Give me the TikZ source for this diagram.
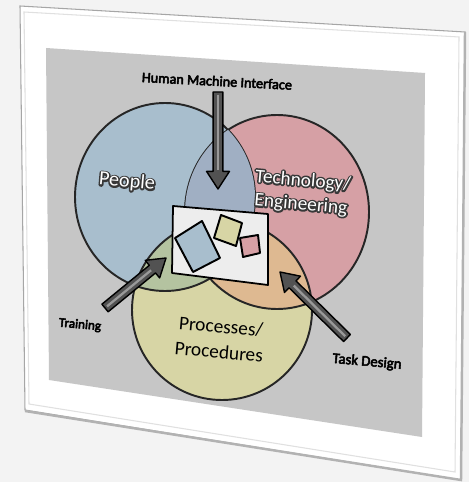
\documentclass[tikz,border=0pt]{standalone}
\usepackage{fontspec}
\setmainfont{Carlito}
\usepackage{tikz}
\usetikzlibrary{calc}
\usetikzlibrary{positioning}

\definecolor{pageback}{HTML}{F3F3F3}
\definecolor{panelgray}{HTML}{C6C6C6}
\definecolor{peopleblue}{HTML}{A8BECD}
\definecolor{techred}{HTML}{D6A0A5}
\definecolor{procyellow}{HTML}{D7D5A5}
\definecolor{bluered}{HTML}{A0AFC3}
\definecolor{blueyellow}{HTML}{B4C3A0}
\definecolor{redyellow}{HTML}{DEB991}
\definecolor{cardwhite}{HTML}{EDEDED}

\tikzset{
  venn/.style={draw=black!85, line width=1.1pt},
  arrowbody/.style={fill=black!68, draw=black, line width=0.8pt, line join=round},
  arrowshine/.style={draw=black!40, line width=1.3pt},
  halotext/.style={text=white, align=center, inner sep=0pt},
  plaintext/.style={text=black, align=center, inner sep=0pt},
  chip/.style={draw=black, line width=1.1pt, line join=round}
}

% block arrow from tail #1 to tip #2
\newcommand\blockarrow[2]{%
  \coordinate (hb) at ($(#2)!10pt!(#1)$);
  \filldraw[arrowbody] ($(#1)!2.8pt!90:(#2)$) -- ($(hb)!2.8pt!-90:(#1)$)
    -- ($(hb)!6.5pt!-90:(#1)$) -- (#2) -- ($(hb)!6.5pt!90:(#1)$)
    -- ($(hb)!2.8pt!90:(#1)$) -- ($(#1)!2.8pt!-90:(#2)$) -- cycle;
  \draw[arrowshine] ($(#1)!1.5pt!(#2)$) -- ($(hb)!1pt!(#1)$);
}

% white word with a dark stroked halo under it
\newcommand\halo[1]{%
  \rlap{\special{pdf:literal direct 2 Tr 1.8 w 1 j 0.22 0.22 0.22 RG}#1\special{pdf:literal direct 0 Tr}}#1}
% slightly heavier small label
\newcommand\heavy[1]{%
  \special{pdf:literal direct 2 Tr 0.3 w 1 j 0 0 0 RG}#1\special{pdf:literal direct 0 Tr}}

\begin{document}
\begin{tikzpicture}[x=0.02cm, y=-0.02cm]
  \useasboundingbox (0,0) rectangle (469,482);
  \fill[pageback] (0,0) rectangle (469,482);

  % frame and panel
  \filldraw[fill=white, draw=black!35, line width=0.6pt]
    (20,6) -- (465,32) -- (461,480) -- (25,410) -- cycle;
  \draw[black!12, line width=0.6pt] (24,12) -- (459,37) -- (455,472) -- (29,404) -- cycle;
  \draw[black!30, line width=1.4pt] (25,411) -- (461,480) -- (465,32);
  \fill[panelgray] (46,48) -- (425,73) -- (422,437) -- (49,380) -- cycle;

  % circles
  \fill[peopleblue] (165,197) ellipse [x radius=90, y radius=94];
  \fill[techred] (277,212) ellipse [x radius=92, y radius=97];
  \fill[procyellow] (222,310) ellipse [x radius=90, y radius=90];
  \begin{scope}
    \clip (165,197) ellipse [x radius=90, y radius=94];
    \fill[blueyellow] (222,310) ellipse [x radius=90, y radius=90];
  \end{scope}
  \begin{scope}
    \clip (277,212) ellipse [x radius=92, y radius=97];
    \fill[redyellow] (222,310) ellipse [x radius=90, y radius=90];
  \end{scope}
  \draw[venn] (165,197) ellipse [x radius=90, y radius=94];
  \draw[venn] (277,212) ellipse [x radius=92, y radius=97];
  \draw[venn] (222,310) ellipse [x radius=90, y radius=90];
  \begin{scope}
    \clip (165,197) ellipse [x radius=90, y radius=94];
    \fill[bluered] (277,212) ellipse [x radius=92, y radius=97];
  \end{scope}

  % central card
  \filldraw[fill=cardwhite, draw=black, line width=1pt, line join=round]
    (173,206) -- (268,214) -- (268,285) -- (172,273) -- cycle;
  \filldraw[chip, fill=peopleblue] (175,238) -- (202,221) -- (220,258) -- (193,272) -- cycle;
  \filldraw[chip, fill=procyellow] (221,215) -- (242,223) -- (236,246) -- (214,238) -- cycle;
  \filldraw[chip, fill=techred] (240,238) -- (258,235) -- (260,253) -- (243,257) -- cycle;

  % labels
  \node[plaintext, font=\fontsize{8.1}{9}\selectfont, rotate=-3] (hmi) at (217,81) {\heavy{Human Machine Interface}};
  \node[plaintext, font=\fontsize{7.5}{9}\selectfont, rotate=-5] (training) at (80,325) {\heavy{Training}};
  \node[plaintext, font=\fontsize{8.4}{9}\selectfont, rotate=-5] (task) at (367,362) {\heavy{Task Design}};
  \node[plaintext, font=\fontsize{11}{14.5}\selectfont, rotate=-5] (proc) at (220,339) {Processes/\\Procedures};
  \node[halotext, font=\fontsize{11.5}{13}\selectfont, rotate=-5] (people) at (127,182) {\halo{People}};
  \node[halotext, font=\fontsize{11}{13.5}\selectfont, rotate=-5] (tech) at (302,193) {\halo{Technology/}\\\halo{Engineering}};

  % arrows into the card
  \coordinate (hmiTail) at (218,92);
  \coordinate (hmiTip) at (218,189);
  \coordinate (trainTail) at (105,308);
  \coordinate (trainTip) at (166,258);
  \coordinate (taskTail) at (347,338);
  \coordinate (taskTip) at (280,272);
  \blockarrow{hmiTail}{hmiTip}
  \blockarrow{trainTail}{trainTip}
  \blockarrow{taskTail}{taskTip}
\end{tikzpicture}
\end{document}
